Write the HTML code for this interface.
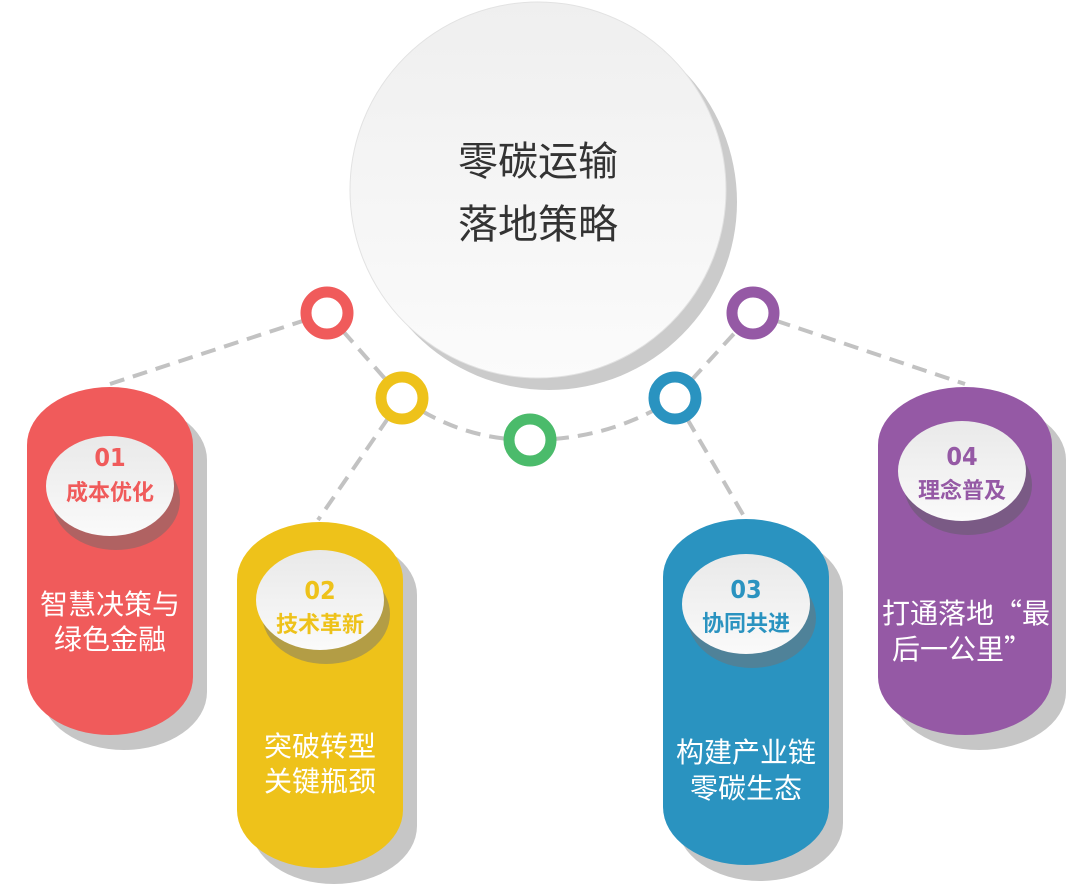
<!DOCTYPE html>
<html><head><meta charset="utf-8"><style>
html,body{margin:0;padding:0;background:#fff;}
svg{display:block;}
text{font-family:"Liberation Sans","Noto Sans CJK SC",sans-serif;text-anchor:middle;}
.num{font-family:"DejaVu Sans Condensed","Liberation Sans Narrow",sans-serif;font-weight:bold;font-size:25px;}
.cjk{font-family:"Noto Sans CJK SC",sans-serif;}
</style></head><body>
<svg width="1080" height="893" viewBox="0 0 1080 893" xmlns="http://www.w3.org/2000/svg">
<defs>
<linearGradient id="wg" x1="0" y1="0" x2="0" y2="1"><stop offset="0" stop-color="#e9e9e9"/><stop offset="1" stop-color="#fafafa"/></linearGradient>
<linearGradient id="bg" x1="0" y1="0" x2="0" y2="1"><stop offset="0" stop-color="#efefef"/><stop offset="1" stop-color="#fbfbfb"/></linearGradient>
</defs>
<g stroke="#c2c2c2" stroke-width="4" stroke-dasharray="15 9" fill="none">
<line x1="110" y1="384" x2="327" y2="313"/>
<line x1="327" y1="313" x2="402" y2="398"/>
<path d="M402 398 Q460 440 530 440"/>
<path d="M530 440 Q610 440 675 398"/>
<line x1="675" y1="398" x2="753" y2="313"/>
<line x1="753" y1="313" x2="965" y2="384"/>
<line x1="402" y1="398" x2="318" y2="520"/>
<line x1="675" y1="398" x2="745" y2="518"/>
</g>
<circle cx="549" cy="202" r="188" fill="#cbcbcb"/>
<circle cx="538" cy="190" r="188" fill="url(#bg)" stroke="#e2e2e2" stroke-width="1"/>
<text x="538" y="175" font-size="40" fill="#333">零碳运输</text>
<text x="538" y="238" font-size="40" fill="#333">落地策略</text>
<g fill="#fff" stroke-width="11">
<circle cx="327" cy="313" r="21" stroke="#f05b5b"/>
<circle cx="402" cy="398" r="21" stroke="#eec21a"/>
<circle cx="530" cy="440" r="21" stroke="#4bbb6b"/>
<circle cx="675" cy="398" r="21" stroke="#2a93c0"/>
<circle cx="753" cy="313" r="21" stroke="#9559a5"/>
</g>
<!-- pill 1 -->
<rect x="41" y="402" width="166" height="348" rx="83" ry="58" fill="#c6c6c6"/>
<rect x="27" y="387" width="166" height="348" rx="83" ry="58" fill="#f05b5b"/>
<ellipse cx="116" cy="500" rx="64" ry="50" fill="#b06262"/>
<ellipse cx="110" cy="486" rx="64" ry="50" fill="url(#wg)"/>
<text x="110" y="466" class="num" fill="#f05b5b">01</text>
<text x="110" y="500" font-size="22" font-weight="bold" fill="#f05b5b">成本优化</text>
<text x="110" y="614" font-size="28" fill="#fff">智慧决策与</text>
<text x="110" y="649" font-size="28" fill="#fff">绿色金融</text>
<!-- pill 2 -->
<rect x="251" y="537" width="166" height="347" rx="83" ry="58" fill="#c6c6c6"/>
<rect x="237" y="522" width="166" height="346" rx="83" ry="58" fill="#eec21a"/>
<ellipse cx="326" cy="614" rx="64" ry="50" fill="#b39d45"/>
<ellipse cx="320" cy="600" rx="64" ry="50" fill="url(#wg)"/>
<text x="320" y="599" class="num" fill="#eec21a">02</text>
<text x="320" y="632" font-size="22" font-weight="bold" fill="#eec21a">技术革新</text>
<text x="320" y="756" font-size="28" fill="#fff">突破转型</text>
<text x="320" y="791" font-size="28" fill="#fff">关键瓶颈</text>
<!-- pill 3 -->
<rect x="677" y="534" width="166" height="347" rx="83" ry="58" fill="#c6c6c6"/>
<rect x="663" y="519" width="166" height="346" rx="83" ry="58" fill="#2a93c0"/>
<ellipse cx="752" cy="618" rx="64" ry="50" fill="#4f8299"/>
<ellipse cx="746" cy="604" rx="64" ry="50" fill="url(#wg)"/>
<text x="746" y="598" class="num" fill="#2a93c0">03</text>
<text x="746" y="631" font-size="22" font-weight="bold" fill="#2a93c0">协同共进</text>
<text x="746" y="762" font-size="28" fill="#fff">构建产业链</text>
<text x="746" y="798" font-size="28" fill="#fff">零碳生态</text>
<!-- pill 4 -->
<rect x="892" y="402" width="174" height="348" rx="87" ry="58" fill="#c6c6c6"/>
<rect x="878" y="387" width="174" height="348" rx="87" ry="58" fill="#9559a5"/>
<ellipse cx="968" cy="485" rx="64" ry="50" fill="#7a5a85"/>
<ellipse cx="962" cy="471" rx="64" ry="50" fill="url(#wg)"/>
<text x="962" y="465" class="num" fill="#9559a5">04</text>
<text x="962" y="498" font-size="22" font-weight="bold" fill="#9559a5">理念普及</text>
<text x="966" y="623" font-size="28" fill="#fff" class="cjk">打通落地“最</text>
<text x="962" y="659" font-size="28" fill="#fff" class="cjk">后一公里”</text>
</svg>
</body></html>
